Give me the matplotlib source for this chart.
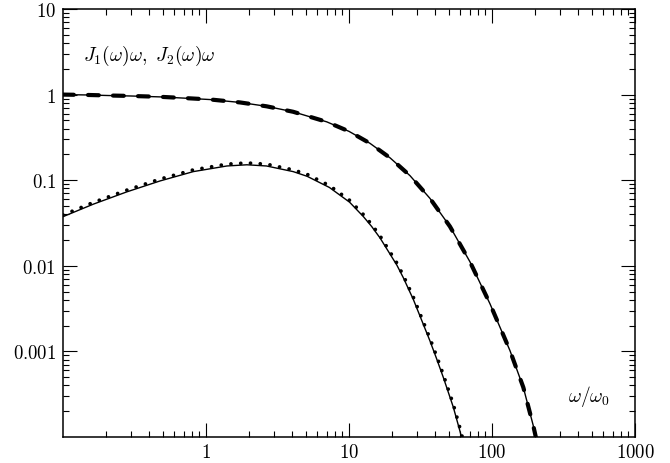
import matplotlib
matplotlib.use("Agg")
import matplotlib.pyplot as plt
from matplotlib.ticker import FixedLocator, FixedFormatter, LogLocator, NullFormatter

plt.rcParams['mathtext.fontset'] = 'cm'
plt.rcParams['font.family'] = ['DejaVu Serif']

# ---- data ----
# upper curve: J1(w)*w  (solid = exact, dashed = approximation)
w_upper = [0.1, 0.15, 0.21, 0.3, 0.48, 0.7, 1.07, 1.73, 2.65, 4.07, 7.0, 10.0,
           14.0, 19.4, 26.7, 36.8, 50.8, 70.2, 96.8, 133.6, 165.6, 194.5, 210.0]
j1_exact = [1.0, 0.99, 0.975, 0.963, 0.94, 0.91, 0.875, 0.81, 0.73, 0.63, 0.48, 0.372,
            0.27, 0.182, 0.113, 0.0614, 0.0288, 0.0111, 0.0036, 0.00102, 0.00038, 0.000135, 0.000076]
j1_approx = [1.0, 0.99, 0.976, 0.964, 0.942, 0.912, 0.877, 0.81, 0.73, 0.63, 0.48, 0.372,
             0.27, 0.182, 0.113, 0.0614, 0.0288, 0.0111, 0.0036, 0.00102, 0.00038, 0.000135, 0.000076]

# lower curve: J2(w)*w  (solid = exact, dotted = approximation)
w_lower = [0.1, 0.163, 0.279, 0.477, 0.815, 1.4, 1.93, 2.65, 4.07, 5.1, 7.3, 10.1,
           12.6, 14.4, 16.5, 21.6, 24.0, 28.2, 36.8, 41.0, 45.6, 53.6, 59.7, 64.6]
j2_exact = [0.0375, 0.0525, 0.073, 0.098, 0.126, 0.1466, 0.1514, 0.1466, 0.126, 0.111, 0.0822, 0.0553,
            0.0376, 0.0288, 0.0211, 0.0102, 0.00724, 0.00403, 0.00133, 0.00082, 0.0005, 0.000224, 0.000117, 0.00007]
j2_approx = [0.0392, 0.055, 0.0765, 0.103, 0.132, 0.154, 0.159, 0.154, 0.132, 0.117, 0.0865, 0.0582,
             0.0397, 0.0304, 0.0223, 0.0108, 0.00768, 0.00429, 0.00142, 0.00088, 0.000538, 0.000242, 0.000127, 0.000076]

x_major = [1, 10, 100, 1000]
x_labels = [r'$1$', r'$10$', r'$100$', r'$1000$']
y_major = [0.001, 0.01, 0.1, 1, 10]
y_labels = [r'$0.001$', r'$0.01$', r'$0.1$', r'$1$', r'$10$']

fig = plt.figure(figsize=(6.7, 4.64), dpi=100)
ax = fig.add_axes([63/670, 26/464, 572/670, 428/464])
ax.set_xscale('log')
ax.set_yscale('log')
ax.set_xlim(0.1, 1000)
ax.set_ylim(1e-4, 10)

ax.plot(w_upper, j1_exact, color='black', lw=1.0, zorder=2)
ax.plot(w_upper, j1_approx, color='black', lw=3.0, dashes=(2.6, 3.4),
        dash_capstyle='round', zorder=3)
ax.plot(w_lower, j2_exact, color='black', lw=1.0, zorder=2)
ax.plot(w_lower, j2_approx, color='black', lw=2.7, dashes=(0.01, 2.6),
        dash_capstyle='round', zorder=3)

ax.xaxis.set_major_locator(FixedLocator(x_major))
ax.xaxis.set_major_formatter(FixedFormatter(x_labels))
ax.xaxis.set_minor_locator(LogLocator(base=10, subs=[2, 3, 4, 5, 6, 7, 8, 9], numticks=20))
ax.xaxis.set_minor_formatter(NullFormatter())
ax.yaxis.set_major_locator(FixedLocator(y_major))
ax.yaxis.set_major_formatter(FixedFormatter(y_labels))
ax.yaxis.set_minor_locator(LogLocator(base=10, subs=[2, 3, 4, 5, 6, 7, 8, 9], numticks=20))
ax.yaxis.set_minor_formatter(NullFormatter())

ax.tick_params(which='both', direction='in', top=True, right=True, width=0.8,
               labelsize=13.5, color='black')
ax.tick_params(which='major', length=10)
ax.tick_params(which='minor', length=4.5)
ax.tick_params(axis='x', which='major', pad=4.5)
ax.tick_params(axis='y', which='major', pad=5)
for s in ax.spines.values():
    s.set_linewidth(1.1)

ax.text(0.035, 0.892, r'$J_1(\omega)\omega,\ J_2(\omega)\omega$', transform=ax.transAxes,
        fontsize=14, ha='left', va='center')
ax.text(0.883, 0.096, r'$\omega/\omega_0$', transform=ax.transAxes,
        fontsize=14, ha='left', va='center')

fig.savefig('out.png', dpi=100)
